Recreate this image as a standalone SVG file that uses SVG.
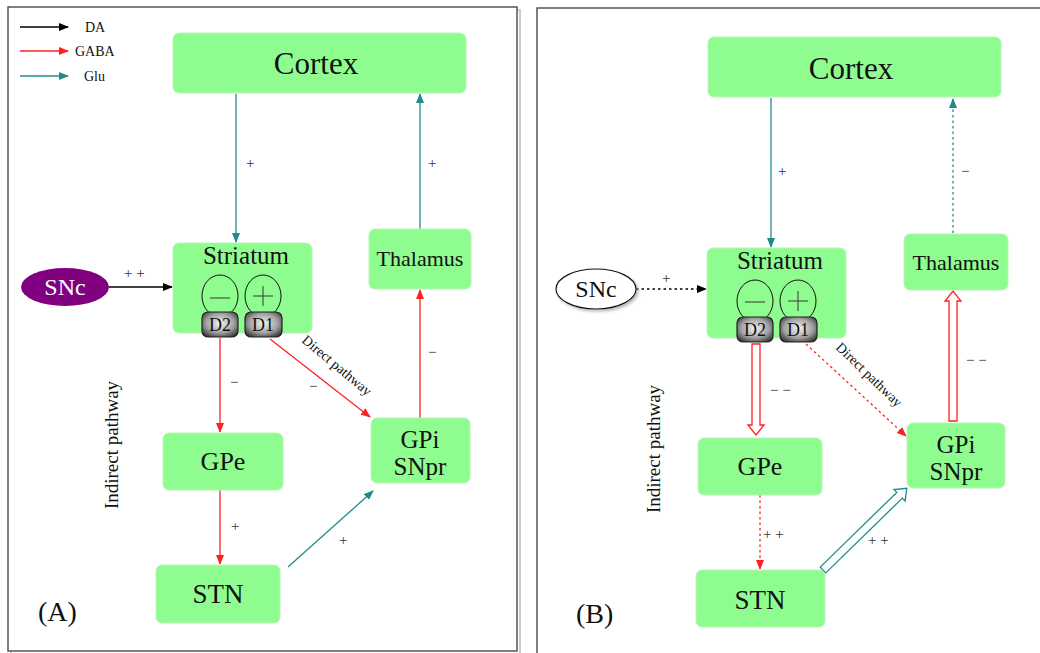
<svg xmlns="http://www.w3.org/2000/svg" width="1040" height="653" viewBox="0 0 1040 653">
<style>
.box{fill:#8ffc8f;stroke:#b8f5b8;stroke-width:1}
.t{font-family:"Liberation Serif","Times New Roman",serif;fill:#111}
.lbl{font-family:"Liberation Serif","Times New Roman",serif;fill:#333;font-size:15px}
.teal{stroke:#1f8c8c;stroke-width:1.3;fill:none}
.red{stroke:#ff2020;stroke-width:1.3;fill:none}
.blk{stroke:#000;stroke-width:1.3;fill:none}
.dot{stroke-dasharray:2.5 3}
.pill{fill:url(#pg);stroke:#222;stroke-width:1.2}
.ell{fill:none;stroke:#111;stroke-width:1}
.sign{stroke:#444;stroke-width:1.1;fill:none}
</style>
<defs>
<marker id="aT" markerWidth="10" markerHeight="8" refX="9" refY="4" orient="auto" markerUnits="userSpaceOnUse"><path d="M0,0 L10,4 L0,8 z" fill="#1f8c8c"/></marker>
<marker id="aR" markerWidth="10" markerHeight="8" refX="9" refY="4" orient="auto" markerUnits="userSpaceOnUse"><path d="M0,0 L10,4 L0,8 z" fill="#ff2020"/></marker>
<marker id="aB" markerWidth="10" markerHeight="8" refX="9" refY="4" orient="auto" markerUnits="userSpaceOnUse"><path d="M0,0 L10,4 L0,8 z" fill="#000"/></marker>
<radialGradient id="pg" cx="0.5" cy="0.45" r="0.65"><stop offset="0" stop-color="#f4f4f4"/><stop offset="0.6" stop-color="#a0a0a0"/><stop offset="1" stop-color="#303030"/></radialGradient>
<filter id="sh" x="-20%" y="-20%" width="140%" height="140%"><feDropShadow dx="2" dy="2" stdDeviation="1.5" flood-color="#888" flood-opacity="0.6"/></filter>
</defs>
<rect width="1040" height="653" fill="#fff"/>
<!-- panel frames -->
<rect x="11" y="10" width="509" height="646" fill="none" stroke="#ccc" stroke-width="2"/>
<rect x="8" y="7" width="509" height="644" fill="#fff" stroke="#555" stroke-width="1.5"/>
<rect x="537" y="8" width="510" height="660" fill="#fff" stroke="#555" stroke-width="1.5"/>

<!-- legend -->
<g id="legend">
<line x1="20" y1="27" x2="68" y2="27" class="blk" marker-end="url(#aB)"/>
<text x="85" y="32" class="t" font-size="14">DA</text>
<line x1="20" y1="51" x2="68" y2="51" class="red" marker-end="url(#aR)"/>
<text x="75" y="56" class="t" font-size="14">GABA</text>
<line x1="20" y1="76" x2="68" y2="76" class="teal" marker-end="url(#aT)"/>
<text x="84" y="81" class="t" font-size="14">Glu</text>
</g>

<!-- connectors -->
<g id="connectors">
<!-- panel A -->
<line x1="236" y1="94" x2="236" y2="242" class="teal" marker-end="url(#aT)"/>
<line x1="420" y1="229" x2="420" y2="94" class="teal" marker-end="url(#aT)"/>
<line x1="420" y1="418" x2="420" y2="290" class="red" marker-end="url(#aR)"/>
<line x1="220" y1="338" x2="220" y2="432" class="red" marker-end="url(#aR)"/>
<line x1="270" y1="339" x2="370" y2="417" class="red" marker-end="url(#aR)"/>
<line x1="220" y1="490" x2="220" y2="564" class="red" marker-end="url(#aR)"/>
<line x1="288" y1="567" x2="373" y2="491" class="teal" marker-end="url(#aT)"/>
<line x1="109" y1="287" x2="172" y2="287" class="blk" marker-end="url(#aB)"/>
<!-- panel B -->
<line x1="771" y1="98" x2="771" y2="247" class="teal" marker-end="url(#aT)"/>
<line x1="953" y1="233" x2="953" y2="99" class="teal dot" marker-end="url(#aT)"/>
<line x1="636" y1="289" x2="706" y2="289" class="blk dot" marker-end="url(#aB)"/>
<line x1="806" y1="344" x2="906" y2="436" class="red dot" marker-end="url(#aR)"/>
<line x1="760" y1="495" x2="760" y2="569" class="red dot" marker-end="url(#aR)"/>
<polygon points="752,344 760,344 760,425 764,425 756,435 748,425 752,425" fill="#fff" stroke="#ff2020" stroke-width="1.3"/>
<polygon points="949,421 957,421 957,301 961,301 953,291 945,301 949,301" fill="#fff" stroke="#ff2020" stroke-width="1.3"/>
<polygon points="0,-4 107,-4 107,-8 117,0 107,8 107,4 0,4" transform="translate(823,570) rotate(-44.3)" fill="#fff" stroke="#1f8c8c" stroke-width="1.3"/>
</g>

<!-- connector labels -->
<g id="labels">
<text x="246" y="168" class="lbl">+</text>
<text x="428" y="168" class="lbl">+</text>
<text x="428" y="357" class="lbl">−</text>
<text x="230" y="387" class="lbl">−</text>
<text x="309" y="391" class="lbl">−</text>
<text x="231" y="531" class="lbl">+</text>
<text x="339" y="545" class="lbl">+</text>
<text x="124" y="278" class="lbl">+ +</text>
<text x="334" y="369" class="t" font-size="14" text-anchor="middle" transform="rotate(40 334 369)">Direct pathway</text>
<text x="118" y="445" class="t" font-size="19" text-anchor="middle" transform="rotate(-90 118 445)">Indirect pathway</text>
<text x="38" y="621" class="t" font-size="28">(A)</text>

<text x="778" y="176" class="lbl">+</text>
<text x="961" y="176" class="lbl">−</text>
<text x="662" y="283" class="lbl">+</text>
<text x="966" y="365" class="lbl">− −</text>
<text x="770" y="395" class="lbl">− −</text>
<text x="763" y="539" class="lbl">+ +</text>
<text x="868" y="545" class="lbl">+ +</text>
<text x="866" y="378" class="t" font-size="14" text-anchor="middle" transform="rotate(44 866 378)">Direct pathway</text>
<text x="660" y="449" class="t" font-size="19" text-anchor="middle" transform="rotate(-90 660 449)">Indirect pathway</text>
<text x="576" y="623" class="t" font-size="28">(B)</text>
</g>

<!-- Panel A nodes -->
<g id="A-cortex"><rect x="173" y="33" width="293" height="60" rx="6" class="box"/><text x="316" y="74" class="t" font-size="31" text-anchor="middle">Cortex</text></g>
<g id="A-striatum">
<rect x="173" y="243" width="139" height="90" rx="6" class="box"/>
<text x="246" y="264" class="t" font-size="25" text-anchor="middle">Striatum</text>
<ellipse cx="220" cy="296" rx="18" ry="21" class="ell"/>
<ellipse cx="263" cy="296" rx="18" ry="21" class="ell"/>
<line x1="210" y1="298" x2="230" y2="298" class="sign"/>
<line x1="253" y1="296" x2="273" y2="296" class="sign"/><line x1="263" y1="286" x2="263" y2="306" class="sign"/>
<rect x="202" y="312" width="36" height="25" rx="6" class="pill" stroke="#5a1010"/>
<text x="220" y="331" class="t" font-size="18" text-anchor="middle">D2</text>
<rect x="245" y="312" width="37" height="25" rx="6" class="pill"/>
<text x="263" y="331" class="t" font-size="18" text-anchor="middle">D1</text>
</g>
<g id="A-thalamus"><rect x="369" y="229" width="102" height="60" rx="6" class="box"/><text x="420" y="266" class="t" font-size="22" text-anchor="middle">Thalamus</text></g>
<g id="A-snc"><ellipse cx="65" cy="287" rx="44" ry="19" fill="#800080"/><text x="65" y="295" class="t" font-size="24" style="fill:#fff" text-anchor="middle">SNc</text></g>
<g id="A-gpe"><rect x="163" y="433" width="120" height="57" rx="6" class="box"/><text x="223" y="470" class="t" font-size="26" text-anchor="middle">GPe</text></g>
<g id="A-gpi"><rect x="371" y="418" width="99" height="65" rx="6" class="box"/><text x="420" y="448" class="t" font-size="25" text-anchor="middle">GPi</text><text x="420" y="475" class="t" font-size="25" text-anchor="middle">SNpr</text></g>
<g id="A-stn"><rect x="156" y="565" width="124" height="58" rx="6" class="box"/><text x="218" y="603" class="t" font-size="27" text-anchor="middle">STN</text></g>

<!-- Panel B nodes -->
<g id="B-cortex"><rect x="708" y="37" width="293" height="60" rx="6" class="box"/><text x="851" y="79" class="t" font-size="31" text-anchor="middle">Cortex</text></g>
<g id="B-striatum">
<rect x="707" y="248" width="139" height="90" rx="6" class="box"/>
<text x="780" y="269" class="t" font-size="25" text-anchor="middle">Striatum</text>
<ellipse cx="755" cy="301" rx="18" ry="21" class="ell"/>
<ellipse cx="798" cy="301" rx="18" ry="21" class="ell"/>
<line x1="745" y1="302" x2="765" y2="302" class="sign"/>
<line x1="788" y1="301" x2="808" y2="301" class="sign"/><line x1="798" y1="291" x2="798" y2="311" class="sign"/>
<rect x="737" y="317" width="36" height="25" rx="6" class="pill" stroke="#5a1010"/>
<text x="755" y="336" class="t" font-size="18" text-anchor="middle">D2</text>
<rect x="780" y="317" width="37" height="25" rx="6" class="pill"/>
<text x="798" y="336" class="t" font-size="18" text-anchor="middle">D1</text>
</g>
<g id="B-thalamus"><rect x="904" y="234" width="104" height="56" rx="6" class="box"/><text x="956" y="270" class="t" font-size="22" text-anchor="middle">Thalamus</text></g>
<g id="B-snc"><ellipse cx="596" cy="289" rx="40" ry="20" fill="#fff" stroke="#111" stroke-width="1.2" filter="url(#sh)"/><text x="596" y="297" class="t" font-size="24" text-anchor="middle">SNc</text></g>
<g id="B-gpe"><rect x="698" y="438" width="124" height="57" rx="6" class="box"/><text x="760" y="475" class="t" font-size="26" text-anchor="middle">GPe</text></g>
<g id="B-gpi"><rect x="907" y="423" width="98" height="65" rx="6" class="box"/><text x="956" y="453" class="t" font-size="25" text-anchor="middle">GPi</text><text x="956" y="480" class="t" font-size="25" text-anchor="middle">SNpr</text></g>
<g id="B-stn"><rect x="696" y="570" width="129" height="57" rx="6" class="box"/><text x="760" y="609" class="t" font-size="27" text-anchor="middle">STN</text></g>
</svg>
